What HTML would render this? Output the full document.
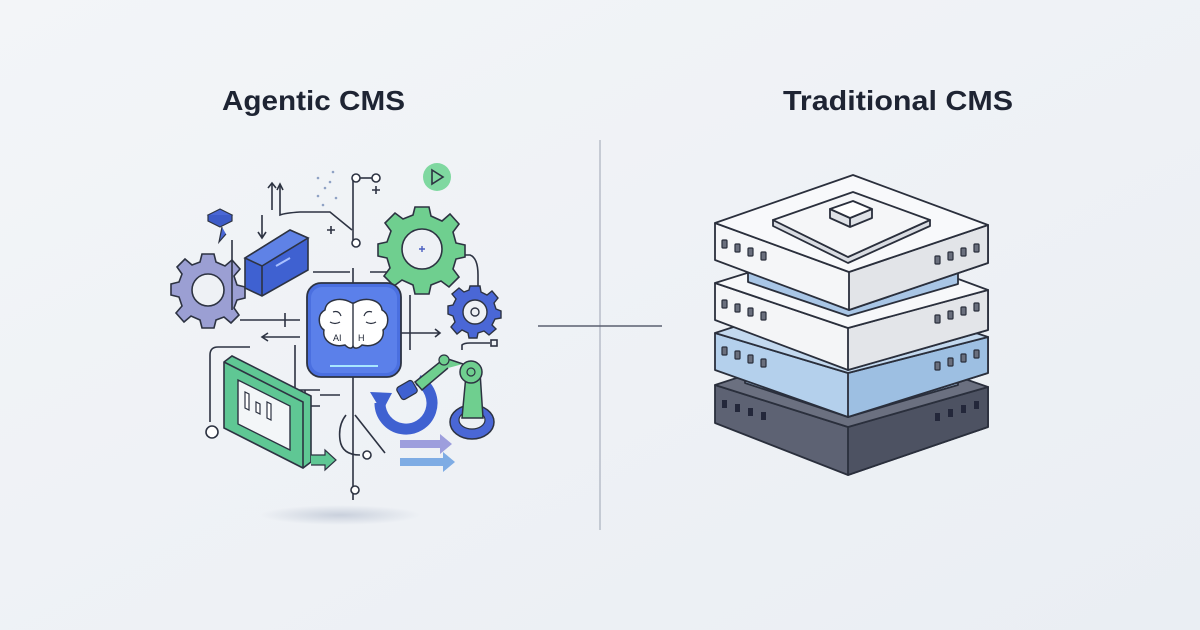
<!DOCTYPE html>
<html><head><meta charset="utf-8"><style>
html,body{margin:0;padding:0;width:1200px;height:630px;overflow:hidden;background:#eef1f5;}
svg{display:block}
text{font-family:"Liberation Sans",sans-serif;font-weight:bold;fill:#1e2433}
</style></head><body>
<svg width="1200" height="630" viewBox="0 0 1200 630">
<defs>
<linearGradient id="bg" x1="0" y1="0" x2="1" y2="1"><stop offset="0" stop-color="#f3f5f8"/><stop offset="1" stop-color="#eaeef3"/></linearGradient>
<radialGradient id="sh"><stop offset="0" stop-color="#c9d0dc"/><stop offset="1" stop-color="#c9d0dc" stop-opacity="0"/></radialGradient>
</defs>
<rect width="1200" height="630" fill="url(#bg)"/>
<text x="222" y="110" font-size="28" textLength="183" lengthAdjust="spacingAndGlyphs">Agentic CMS</text>
<text x="783" y="110" font-size="28" textLength="230" lengthAdjust="spacingAndGlyphs">Traditional CMS</text>
<line x1="600" y1="140" x2="600" y2="530" stroke="#aab1bd" stroke-width="1.2"/>
<line x1="538" y1="326" x2="662" y2="326" stroke="#5a6070" stroke-width="1.5"/>

<ellipse cx="340" cy="515" rx="80" ry="10" fill="url(#sh)"/>
<g fill="none" stroke="#2d3342" stroke-width="1.6">
<path d="M353 175 V240 M353 268 V283 M353 377 V500"/>
<circle cx="356" cy="178" r="4" fill="#fff"/><circle cx="376" cy="178" r="4" fill="#fff"/><line x1="360" y1="178" x2="372" y2="178"/>
<circle cx="356" cy="243" r="4" fill="#fff"/>
<circle cx="355" cy="490" r="4" fill="#fff"/>
<path d="M280 185 V215 Q285 213 300 212 L330 212 L352 230"/>
<path d="M272 183 V210 M262 215 V238 M258 232 l4 6 4-6"/>
<path d="M277 190 l3-6 3 6 M268 188 l4-5 4 5"/>
<path d="M313 272 H350 M370 272 H400"/>
<path d="M240 320 H300 M285 313 V327"/>
<path d="M300 337 H262 M268 333 l-6 4 6 4"/>
<path d="M400 333 H440 M435 329 l5 4-5 4"/>
<path d="M210 422 V355 Q210 347 218 347 H250"/>
<circle cx="212" cy="432" r="6" fill="#fff"/>
<path d="M295 345 V390 H320 M305 390 V395"/>
<path d="M300 400 L310 406 H320 M320 395 H340"/>
<path d="M346 415 Q338 425 340 440 Q342 455 360 455 M355 415 L385 453"/>
<circle cx="367" cy="455" r="4" fill="#fff"/>
<path d="M460 255 H470 Q478 258 478 275 V290"/>
<path d="M462 350 V345 Q464 343 470 343 H490"/>
<rect x="491" y="340" width="6" height="6"/>
<path d="M372 190 h8 M376 186 v8 M327 230 h8 M331 226 v8"/>
<path d="M410 295 V350 M395 300 H400"/>
</g>
<g fill="#8fa2c4"><circle cx="318" cy="178" r="1.3"/><circle cx="325" cy="188" r="1.3"/><circle cx="330" cy="182" r="1.3"/><circle cx="318" cy="196" r="1.3"/><circle cx="336" cy="198" r="1.3"/><circle cx="323" cy="205" r="1.3"/><circle cx="333" cy="172" r="1.3"/></g>
<g transform="translate(208,290)">
<path d="M-6 -36 H6 L8 -28 L17 -24 L24 -30 L32 -21 L26 -14 L29 -5 L37 -3 V8 L29 10 L26 18 L31 25 L23 33 L16 27 L8 30 L6 38 H-6 L-8 30 L-17 26 L-24 32 L-32 23 L-26 16 L-29 7 L-37 5 V-6 L-29 -8 L-26 -16 L-31 -23 L-23 -31 L-16 -25 L-8 -28 Z" fill="#9b9fd3" stroke="#2d3342" stroke-width="1.6"/>
<circle r="16" fill="#eef1f5" stroke="#2d3342" stroke-width="1.6"/>
</g>
<g transform="translate(422,249)">
<path d="M-7 -42 H7 L9 -33 L20 -28 L28 -35 L37 -25 L31 -17 L34 -6 L43 -4 V8 L34 10 L31 20 L37 28 L27 38 L19 32 L9 36 L7 45 H-7 L-9 36 L-20 31 L-28 37 L-38 27 L-32 19 L-35 9 L-44 7 V-5 L-35 -7 L-31 -18 L-37 -26 L-27 -36 L-19 -30 L-9 -34 Z" fill="#6fcf8f" stroke="#2d3342" stroke-width="1.6"/>
<circle r="20" fill="#eef1f5" stroke="#2d3342" stroke-width="1.6"/>
<path d="M-3 0 h6 M0 -3 v6" stroke="#4a5fc1" stroke-width="1.4"/>
</g>
<g transform="translate(475,312)">
<path d="M-5 -23 H5 L6 -17 L12 -14 L17 -18 L23 -11 L19 -6 L21 0 L26 2 V9 L20 10 L17 16 L21 20 L14 26 L9 22 L3 24 L2 29 H-6 L-7 24 L-13 21 L-18 25 L-24 18 L-20 13 L-22 7 L-27 5 V-3 L-22 -4 L-19 -10 L-23 -15 L-16 -21 L-11 -17 L-6 -19 Z" fill="#4a67d6" stroke="#2d3342" stroke-width="1.4" transform="translate(0,-3)"/>
<circle r="12" fill="#eef1f5" stroke="#2d3342" stroke-width="1.4"/>
<circle r="4" fill="none" stroke="#2d3342" stroke-width="1.4"/>
</g>
<circle cx="437" cy="177" r="14" fill="#7fd8a0"/>
<path d="M432 170 L443 177 L432 184 Z" fill="none" stroke="#2d3342" stroke-width="1.6"/>
<path d="M208 215 l12 -6 l12 6 l-12 6 Z" fill="#4a67d6" stroke="#2d3342" stroke-width="1.2"/>
<path d="M208 215 v6 l12 6 l12 -6 v-6" fill="#3d5bc8" stroke="#2d3342" stroke-width="1.2"/>
<path d="M222 227 l-3 15 l7 -8" fill="#4a67d6" stroke="#2d3342" stroke-width="1.2"/>
<line x1="232" y1="240" x2="232" y2="310" stroke="#2d3342" stroke-width="1.6"/>
<path d="M245 258 L290 230 L308 238 L308 270 L262 296 L245 288 Z" fill="#3f61d1" stroke="#2d3342" stroke-width="1.6"/>
<path d="M245 258 L290 230 L308 238 L262 266 Z" fill="#5f82e6" stroke="#2d3342" stroke-width="1.6"/>
<line x1="262" y1="266" x2="262" y2="296" stroke="#2d3342" stroke-width="1.6"/>
<line x1="276" y1="266" x2="290" y2="258" stroke="#a9c0ff" stroke-width="2"/>
<rect x="307" y="283" width="94" height="94" rx="14" fill="#4a6fe0" stroke="#2d3342" stroke-width="1.8"/>
<rect x="311" y="287" width="86" height="86" rx="11" fill="#5b80ea"/>
<path d="M352 303 C340 296 326 300 325 310 C317 314 318 326 324 330 C322 340 332 348 345 345 C349 349 352 349 353 346 C354 349 358 349 362 345 C375 348 385 340 383 330 C389 326 390 314 382 310 C381 300 366 296 354 303 Z" fill="#fff" stroke="#2d3342" stroke-width="1.5"/>
<line x1="353" y1="303" x2="353" y2="346" stroke="#2d3342" stroke-width="1.4"/>
<path d="M333 312 q6 -2 8 4 M372 312 q-6 -2 -8 4 M330 322 q5 3 10 0 M376 322 q-5 3 -10 0" fill="none" stroke="#2d3342" stroke-width="1.2"/>
<text x="333" y="341" font-size="9" style="font-weight:normal" fill="#2d3342">AI</text>
<text x="358" y="341" font-size="9" style="font-weight:normal" fill="#2d3342">H</text>
<line x1="330" y1="366" x2="378" y2="366" stroke="#a8e6ff" stroke-width="2"/>
<path d="M224 362 L232 356 L311 396 L311 462 L303 468 L224 428 Z" fill="#5fc794" stroke="#2d3342" stroke-width="1.6"/>
<path d="M224 362 L303 402 L303 468" fill="none" stroke="#2d3342" stroke-width="1.6"/>
<path d="M238 380 L290 406 L290 450 L238 424 Z" fill="#f3f6f8" stroke="#2d3342" stroke-width="1.4"/>
<path d="M245 392 v16 l4 2 v-16 z M256 402 v10 l4 2 v-10 z M267 402 v16 l4 2 v-16 z" fill="#fff" stroke="#2d3342" stroke-width="1.2"/>
<path d="M311 455 H325 V450 L336 460 L325 470 V465 H311" fill="#5fc794" stroke="#2d3342" stroke-width="1.2"/>
<path d="M418 380 A26 26 0 1 1 380 403" fill="none" stroke="#3f61d1" stroke-width="11"/>
<path d="M370 392 L382 412 L392 393 Z" fill="#3f61d1"/>
<ellipse cx="472" cy="422" rx="22" ry="17" fill="#4a67d6" stroke="#2d3342" stroke-width="1.5"/>
<ellipse cx="472" cy="420" rx="13" ry="9" fill="#eef1f5" stroke="#2d3342" stroke-width="1.2"/>
<path d="M462 418 L466 375 L480 372 L483 418 Z" fill="#6fcf8f" stroke="#2d3342" stroke-width="1.5"/>
<circle cx="471" cy="372" r="11" fill="#6fcf8f" stroke="#2d3342" stroke-width="1.5"/>
<circle cx="471" cy="372" r="4" fill="none" stroke="#2d3342" stroke-width="1.2"/>
<path d="M463 364 L445 358 L415 382 L422 390 L448 368" fill="#6fcf8f" stroke="#2d3342" stroke-width="1.5"/>
<circle cx="444" cy="360" r="5" fill="#6fcf8f" stroke="#2d3342" stroke-width="1.2"/>
<rect x="398" y="383" width="18" height="14" rx="3" fill="#3f61d1" stroke="#2d3342" stroke-width="1.2" transform="rotate(-30 407 390)"/>
<path d="M400 440 H440 V434 L452 444 L440 454 V448 H400 Z" fill="#8e8fd8" opacity="0.85"/>
<path d="M400 458 H443 V452 L455 462 L443 472 V466 H400 Z" fill="#6aa0e0" opacity="0.85"/>

<g stroke="#2a2f3c" stroke-width="1.8" stroke-linejoin="round">
<path d="M715 385 L848 427 L988 387 L988 427 L848 475 L715 423 Z" fill="#5d6273"/>
<path d="M848 427 L988 387 L988 427 L848 475 Z" fill="#4d5262"/>
<path d="M715 385 L853 340 L988 387 L848 427 Z" fill="#6b7080"/>
<path d="M745 368 L848 400 L958 370 L958 385 L848 417 L745 383 Z" fill="#a9c6e6"/>
<path d="M715 333 L848 373 L988 337 L988 373 L848 417 L715 370 Z" fill="#b4d0ec"/>
<path d="M848 373 L988 337 L988 373 L848 417 Z" fill="#9dbfe2"/>
<path d="M715 333 L848 290 L988 337 L848 373 Z" fill="#c3d9ef"/>
<path d="M715 283 L848 328 L988 290 L988 330 L848 370 L715 320 Z" fill="#f4f5f7"/>
<path d="M848 328 L988 290 L988 330 L848 370 Z" fill="#e3e5e9"/>
<path d="M715 283 L853 240 L988 290 L848 328 Z" fill="#f7f8fa"/>
<path d="M748 268 L848 300 L958 270 L958 284 L848 316 L748 282 Z" fill="#a9c6e6"/>
<path d="M715 223 L849 272 L988 225 L988 263 L849 310 L715 260 Z" fill="#f5f6f8"/>
<path d="M849 272 L988 225 L988 263 L849 310 Z" fill="#e2e4e8"/>
<path d="M715 223 L853 175 L988 225 L849 272 Z" fill="#f8f9fb"/>
<path d="M773 220 L773 226 L848 263 L930 226 L930 220 L848 257 Z" fill="#d9dce2"/>
<path d="M773 220 L853 192 L930 220 L848 257 Z" fill="#f5f6f8"/>
<path d="M830 209 V218 L850 227 L872 218 V209 L850 218 Z" fill="#dfe2e7"/>
<path d="M830 209 L853 201 L872 209 L850 218 Z" fill="#fff"/>
<line x1="850" y1="218" x2="850" y2="227"/>
</g>
<g fill="#6a6f7d" stroke="#2a2f3c" stroke-width="1.2">
<rect x="722" y="240" width="5" height="8" rx="1"/><rect x="735" y="244" width="5" height="8" rx="1"/><rect x="748" y="248" width="5" height="8" rx="1"/><rect x="761" y="252" width="5" height="8" rx="1"/>
<rect x="935" y="256" width="5" height="8" rx="1"/><rect x="948" y="252" width="5" height="8" rx="1"/><rect x="961" y="248" width="5" height="8" rx="1"/><rect x="974" y="244" width="5" height="8" rx="1"/>
<rect x="722" y="300" width="5" height="8" rx="1"/><rect x="735" y="304" width="5" height="8" rx="1"/><rect x="748" y="308" width="5" height="8" rx="1"/><rect x="761" y="312" width="5" height="8" rx="1"/>
<rect x="935" y="315" width="5" height="8" rx="1"/><rect x="948" y="311" width="5" height="8" rx="1"/><rect x="961" y="307" width="5" height="8" rx="1"/><rect x="974" y="303" width="5" height="8" rx="1"/>
<rect x="722" y="347" width="5" height="8" rx="1"/><rect x="735" y="351" width="5" height="8" rx="1"/><rect x="748" y="355" width="5" height="8" rx="1"/><rect x="761" y="359" width="5" height="8" rx="1"/>
<rect x="935" y="362" width="5" height="8" rx="1"/><rect x="948" y="358" width="5" height="8" rx="1"/><rect x="961" y="354" width="5" height="8" rx="1"/><rect x="974" y="350" width="5" height="8" rx="1"/>
</g>
<g fill="#23273a">
<rect x="722" y="400" width="5" height="8"/><rect x="735" y="404" width="5" height="8"/><rect x="748" y="408" width="5" height="8"/><rect x="761" y="412" width="5" height="8"/>
<rect x="935" y="413" width="5" height="8"/><rect x="948" y="409" width="5" height="8"/><rect x="961" y="405" width="5" height="8"/><rect x="974" y="401" width="5" height="8"/>
</g>
</svg>
</body></html>
